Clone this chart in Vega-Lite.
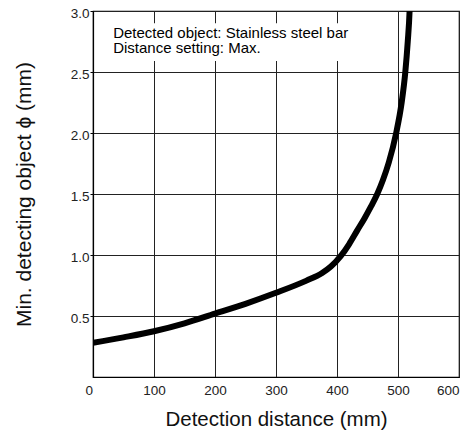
{
  "$schema": "https://vega.github.io/schema/vega-lite/v6.json",
  "width": 366,
  "height": 366,
  "autosize": "none",
  "padding": {"left": 93, "top": 11, "right": 14, "bottom": 56},
  "config": {
    "view": {"stroke": "#000", "strokeWidth": 1.2},
    "font": "Liberation Sans"
  },
  "layer": [
    {
      "data": {"values": [{"x": 11, "x2": 452, "y": 2.59, "y2": 2.9}]},
      "mark": {"type": "rect", "fill": "white"},
      "encoding": {
        "x": {"field": "x", "type": "quantitative", "scale": {"domain": [0, 600]},
          "axis": {"values": [0, 100, 200, 300, 400, 500, 600], "grid": true, "gridColor": "#222", "gridOpacity": 1, "gridWidth": 1,
            "ticks": false, "domainColor": "#000", "domainWidth": 1.2, "labelFontSize": 13.5, "labelColor": "#222", "labelPadding": 6,
            "labelOffset": {"condition": {"test": "datum.value == 0", "value": -8}, "value": 0},
            "title": "Detection distance (mm)", "titleFontSize": 20.5, "titleFontWeight": "normal", "titleColor": "#111", "titlePadding": 13}},
        "x2": {"field": "x2"},
        "y": {"field": "y", "type": "quantitative", "scale": {"domain": [0, 3]},
          "axis": {"values": [0.5, 1, 1.5, 2, 2.5, 3], "format": ".1f", "grid": true, "gridColor": "#222", "gridOpacity": 1, "gridWidth": 1,
            "ticks": true, "tickSize": 3, "tickColor": "#000", "domainColor": "#000", "domainWidth": 1.2, "labelFontSize": 13.5, "labelColor": "#222", "labelPadding": 1, "labelOffset": 2,
            "title": "Min. detecting object ϕ (mm)", "titleFontSize": 21, "titleFontWeight": "normal", "titleColor": "#111", "titlePadding": 36}},
        "y2": {"field": "y2"}
      }
    },
    {
      "data": {"values": [
        {"d": 0, "v": 0.28}, {"d": 50, "v": 0.325}, {"d": 100, "v": 0.375}, {"d": 150, "v": 0.44},
        {"d": 200, "v": 0.52}, {"d": 250, "v": 0.6}, {"d": 300, "v": 0.69}, {"d": 350, "v": 0.79},
        {"d": 375, "v": 0.85}, {"d": 390, "v": 0.905}, {"d": 406, "v": 0.99}, {"d": 420, "v": 1.09}, {"d": 433, "v": 1.2},
        {"d": 445, "v": 1.3}, {"d": 456, "v": 1.4}, {"d": 466, "v": 1.5}, {"d": 475, "v": 1.61},
        {"d": 485, "v": 1.76}, {"d": 497, "v": 2.0}, {"d": 506, "v": 2.25}, {"d": 512, "v": 2.5},
        {"d": 516, "v": 2.75}, {"d": 519, "v": 3.0}, {"d": 520, "v": 3.15}
      ]},
      "mark": {"type": "line", "color": "#000", "strokeWidth": 6, "interpolate": "monotone", "clip": true},
      "encoding": {
        "x": {"field": "d", "type": "quantitative"},
        "y": {"field": "v", "type": "quantitative"}
      }
    },
    {
      "data": {"values": [
        {"x": 33, "y": 2.78, "t": "Detected object: Stainless steel bar"},
        {"x": 33, "y": 2.655, "t": "Distance setting: Max."}
      ]},
      "mark": {"type": "text", "align": "left", "baseline": "alphabetic", "fontSize": 15, "color": "#000"},
      "encoding": {
        "x": {"field": "x", "type": "quantitative"},
        "y": {"field": "y", "type": "quantitative"},
        "text": {"field": "t"}
      }
    }
  ]
}
